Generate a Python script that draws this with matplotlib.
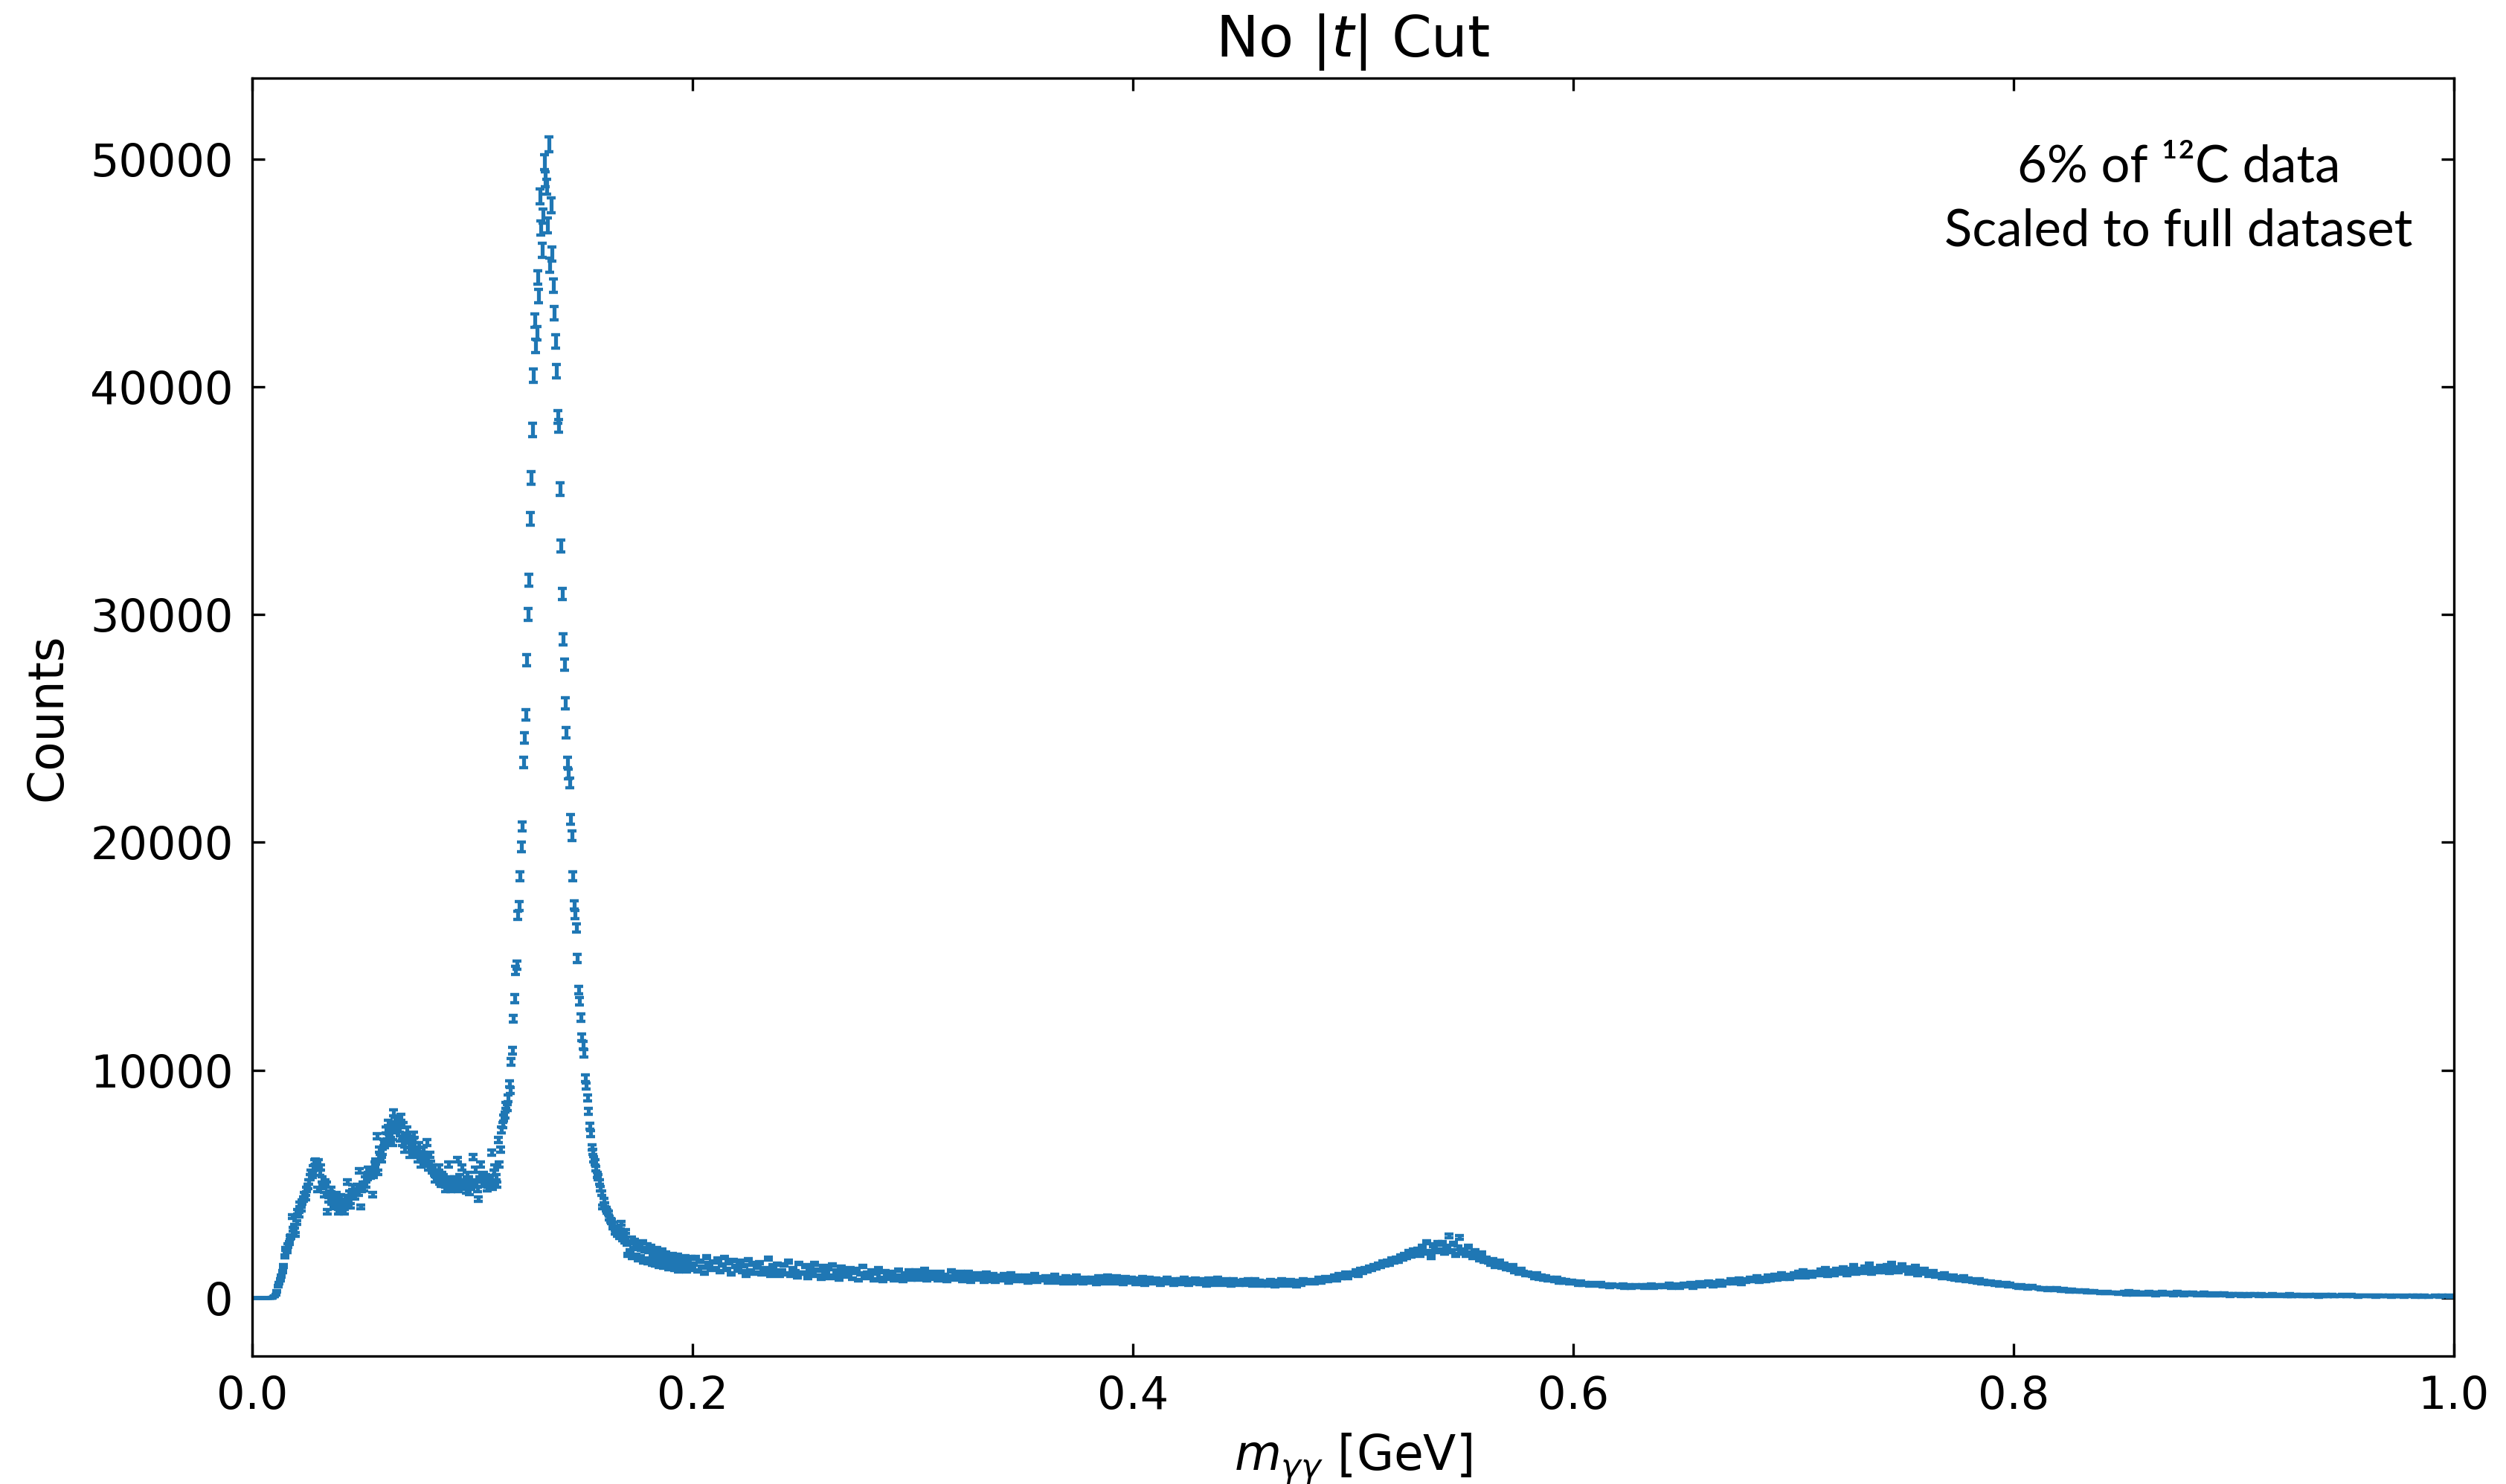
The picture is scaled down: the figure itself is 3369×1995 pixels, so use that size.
import numpy as np
import matplotlib
matplotlib.use("Agg")
import matplotlib.pyplot as plt

# bin widths used for the two parts of the spectrum [GeV]
fine_width = 0.0005
coarse_width = 0.001

# counts, 0.0 - 0.1 GeV, 0.5 MeV bins
counts_low = [
    0, 0, 0, 0, 0, 0, 0, 0, 0, 0,
    0, 0, 0, 0, 0, 0, 0, 0, 20, 60,
    80, 140, 300, 520, 650, 800, 960, 1150, 1400, 1830,
    2150, 2050, 2300, 2420, 2650, 2700, 3570, 3030, 3150, 2800,
    3300, 3780, 3650, 4110, 3900, 4200, 4330, 4550, 4400, 4760,
    4900, 5090, 5300, 5510, 5400, 5700, 5960, 6000, 5850, 4760,
    5960, 5500, 5740, 5200, 4900, 4540, 5100, 4980, 3780, 4300,
    4600, 4760, 4220, 4400, 4100, 4000, 4540, 4300, 3780, 3900,
    4430, 4200, 4050, 3780, 4400, 4150, 5090, 4330, 4600, 4040,
    4500, 4870, 4600, 4430, 4700, 4900, 4600, 5580, 4000, 4760,
    5000, 4800, 5200, 4980, 5300, 5630, 5500, 5350, 5600, 4540,
    5400, 5850, 6000, 7100, 5510, 6500, 6200, 6070, 6400, 6820,
    6700, 7370, 7100, 7690, 7300, 6940, 7500, 6820, 8120, 7800,
    7370, 7600, 7800, 7400, 7000, 7920, 6820, 7590, 6500, 7100,
    7370, 6900, 7000, 6280, 6700, 6600, 7150, 6940, 6500, 6400,
    6070, 6710, 6300, 5850, 6100, 6500, 6000, 6200, 6820, 5900,
    5740, 6280, 5900, 5600, 5740, 5500, 5200, 5400, 5300, 5740,
    5100, 5000, 5400, 5300, 5000, 4760, 5100, 4900, 5850, 5200,
    4760, 4900, 5000, 5200, 4800, 5100, 6070, 4760, 5300, 5000,
    5740, 4870, 5100, 5000, 4700, 5410, 5200, 4650, 4900, 5000,
]

# counts, 0.1 - 0.2 GeV (pi0 peak), 0.5 MeV bins
counts_pi0 = [
    6170, 5100, 5630, 5000, 4760, 4330, 5200, 5850, 5000, 5300,
    5410, 5100, 5300, 4800, 4980, 5200, 5000, 6390, 4870, 5500,
    5740, 5300, 4980, 6940, 5850, 6500, 7370, 7590, 7900, 8020,
    8450, 8350, 8770, 9400, 9100, 10370, 10850, 12260, 13140, 14380,
    14600, 16800, 17200, 18500, 19800, 20700, 23500, 24600, 25600, 28000,
    30000, 31500, 34200, 36000, 38100, 40500, 42900, 41800, 42350, 44800,
    43980, 48350, 46980, 46000, 47500, 49860, 49100, 48780, 47080, 50640,
    45350, 47960, 45840, 44440, 43230, 42000, 40690, 38670, 38280, 35500,
    33000, 30900, 28900, 27800, 26100, 24800, 23500, 23000, 22600, 21000,
    20300, 18500, 17260, 16830, 16240, 14900, 13510, 13020, 12300, 11440,
    11100, 10740, 9650, 9300, 8780, 8180, 7530, 7210, 6620, 6400,
    6100, 5960, 5680, 5400, 5300, 5090, 4800, 4600, 4000, 4270,
    4100, 3900, 3800, 3730, 3500, 3400, 3360, 3100, 3250, 2900,
    3030, 2800, 3100, 2700, 2950, 3290, 2600, 2800, 2500, 2910,
    2400, 1900, 2450, 2050, 2600, 1800, 2300, 2500, 1850, 2200,
    1700, 2400, 1800, 2150, 2450, 1600, 2100, 1700, 2300, 1550,
    2050, 1650, 2250, 1500, 1950, 1800, 1450, 2150, 1650, 1400,
    1900, 1550, 2100, 1350, 1700, 1950, 1450, 1850, 1300, 1750,
    1450, 1900, 1600, 1250, 1800, 1400, 1850, 1200, 1650, 1450,
    1750, 1300, 1550, 1800, 1200, 1650, 1450, 1250, 1750, 1350,
]

# counts, 0.2 - 0.45 GeV, 1 MeV spacing
counts_mid = [
    1480, 1750, 1200, 1620, 1350, 1100, 1800, 1500, 1250, 1580,
    1300, 1700, 1150, 1450, 1780, 1250, 1550, 1050, 1650, 1380,
    1220, 1600, 1150, 1420, 1000, 1680, 1200, 1500, 1080, 1350,
    1550, 1050, 1300, 1180, 1720, 1000, 1400, 1150, 1480, 980,
    1200, 1450, 1050, 1600, 980, 1300, 1150, 920, 1520, 1100,
    1080, 1400, 900, 1250, 1050, 1500, 980, 1220, 850, 1380,
    1050, 1280, 880, 1450, 960, 1200, 820, 1350, 1000, 1150,
    950, 1300, 850, 1120, 1250, 780, 1050, 1380, 900, 1100,
    920, 1180, 800, 1100, 1300, 880, 760, 1150, 980, 850,
    1120, 800, 950, 1220, 850, 740, 1060, 880, 1180, 820,
    950, 1200, 820, 1030, 880, 1240, 790, 1020, 1120, 870,
    960, 800, 1140, 880, 1010, 740, 940, 1180, 820, 1000,
    870, 1120, 760, 980, 820, 1140, 720, 950, 840, 1060,
    820, 1000, 730, 1080, 870, 770, 1040, 710, 960, 850,
    780, 1020, 900, 700, 1070, 840, 760, 980, 800, 900,
    740, 980, 680, 860, 820, 1020, 720, 900, 780, 880,
    920, 680, 840, 760, 1000, 700, 860, 800, 660, 940,
    760, 900, 640, 840, 960, 700, 820, 660, 880, 740,
    690, 880, 800, 620, 940, 720, 780, 660, 960, 700,
    770, 640, 920, 700, 840, 620, 900, 740, 680, 860,
    750, 620, 840, 700, 900, 580, 780, 860, 660, 740,
    840, 680, 600, 800, 720, 880, 640, 780, 580, 820,
    680, 820, 620, 880, 740, 580, 800, 660, 840, 700,
    620, 820, 680, 560, 840, 660, 760, 600, 860, 640,
    700, 580, 800, 640, 540, 820, 660, 740, 580, 720,
]

# counts, 0.45 - 0.65 GeV (eta bump)
counts_eta = [
    760, 600, 820, 680, 560, 790, 650, 740, 540, 720,
    700, 560, 780, 620, 520, 740, 640, 800, 560, 660,
    620, 760, 540, 690, 520, 740, 600, 800, 640, 720,
    680, 780, 640, 730, 860, 700, 790, 900, 740, 880,
    820, 950, 780, 1020, 900, 980, 1100, 880, 1060, 1010,
    1080, 1180, 990, 1240, 1130, 1300, 1190, 1350, 1260, 1420,
    1330, 1480, 1390, 1560, 1450, 1620, 1500, 1700, 1580, 1740,
    1640, 1820, 1720, 1900, 1780, 2020, 1860, 2080, 1950, 2120,
    1880, 2260, 1980, 2450, 2020, 1800, 2320, 2040, 2400, 2100,
    2420, 1980, 2250, 2720, 2050, 2380, 1900, 2200, 2650, 2000,
    2100, 1880, 2250, 1950, 1780, 2050, 1820, 1700, 1950, 1640,
    1720, 1600, 1480, 1660, 1390, 1550, 1620, 1350, 1480, 1300,
    1320, 1250, 1400, 1150, 1200, 1080, 1260, 1130, 1020, 1100,
    1040, 980, 900, 1070, 860, 950, 830, 920, 780, 880,
    820, 760, 870, 700, 800, 680, 780, 720, 650, 740,
    700, 640, 600, 720, 580, 660, 620, 540, 650, 590,
    600, 540, 640, 510, 580, 560, 500, 590, 520, 560,
    540, 500, 580, 470, 530, 560, 450, 520, 560, 490,
    500, 560, 460, 540, 490, 580, 440, 520, 500, 550,
    550, 480, 520, 600, 460, 540, 500, 570, 470, 530,
]

# counts, 0.65 - 0.85 GeV (omega bump)
counts_omega = [
    620, 510, 580, 650, 470, 600, 540, 690, 530, 580,
    580, 700, 640, 520, 670, 610, 750, 560, 690, 640,
    700, 810, 640, 760, 690, 850, 620, 780, 730, 820,
    860, 740, 800, 920, 710, 830, 880, 760, 950, 800,
    880, 1000, 820, 950, 1060, 870, 930, 1010, 840, 980,
    1050, 920, 1130, 980, 1200, 940, 1020, 1110, 960, 1070,
    1140, 1010, 1220, 1060, 1290, 980, 1100, 1180, 1030, 1250,
    1200, 1080, 1310, 1140, 1030, 1260, 1170, 1400, 1090, 1230,
    1260, 1130, 1350, 1190, 1480, 1080, 1240, 1300, 1150, 1380,
    1290, 1170, 1400, 1110, 1520, 1230, 1320, 1160, 1260, 1430,
    1210, 1320, 1080, 1250, 1150, 1380, 1040, 1190, 1100, 1260,
    1120, 990, 1080, 1170, 950, 1040, 1000, 890, 1060, 960,
    930, 850, 980, 820, 900, 790, 870, 940, 760, 840,
    800, 720, 770, 690, 820, 660, 740, 700, 630, 720,
    650, 600, 690, 560, 620, 580, 640, 530, 600, 560,
    540, 500, 470, 560, 450, 520, 430, 490, 510, 440,
    450, 410, 380, 440, 400, 360, 430, 390, 350, 410,
    370, 330, 390, 310, 350, 300, 360, 320, 280, 340,
    300, 270, 320, 250, 290, 260, 310, 240, 270, 230,
    250, 220, 260, 200, 240, 210, 230, 190, 220, 200,
]

# counts, 0.85 - 1.0 GeV
counts_tail = [
    260, 160, 290, 200, 150, 270, 190, 240, 130, 250,
    210, 270, 150, 230, 120, 250, 170, 280, 140, 210,
    170, 240, 120, 220, 260, 140, 200, 110, 240, 160,
    140, 230, 160, 100, 220, 130, 240, 120, 200, 110,
    180, 120, 210, 100, 170, 200, 110, 190, 90, 170,
    160, 100, 190, 90, 170, 130, 80, 160, 110, 180,
    150, 80, 170, 110, 70, 150, 100, 170, 80, 130,
    110, 150, 70, 140, 90, 160, 60, 120, 140, 80,
    140, 80, 120, 60, 150, 100, 80, 130, 50, 110,
    90, 130, 60, 110, 140, 60, 100, 120, 70, 130,
    120, 60, 100, 130, 70, 100, 50, 120, 80, 100,
    80, 120, 60, 100, 50, 110, 80, 120, 60, 90,
    110, 50, 90, 70, 120, 60, 90, 50, 110, 70,
    70, 100, 50, 110, 70, 40, 100, 70, 50, 90,
    60, 100, 70, 40, 100, 60, 80, 110, 50, 70,
]

segments = [
    (0.0, fine_width, counts_low),
    (0.1, fine_width, counts_pi0),
    (0.2, coarse_width, counts_mid),
    (0.45, coarse_width, counts_eta),
    (0.65, coarse_width, counts_omega),
    (0.85, coarse_width, counts_tail),
]

# statistical error scale on the drawn bars
err_scale = 1.45


def collect(segs):
    """ Spoji segmenty do jednoho pole stredu binu a poctu """
    xs, ys = [], []
    for start, width, vals in segs:
        centers = start + width * (np.arange(len(vals)) + 0.5)
        xs.append(centers)
        ys.append(np.asarray(vals, dtype=float))
    return np.concatenate(xs), np.concatenate(ys)


def plot_spectrum(fig_location: str = None):
    x, y = collect(segments)
    yerr = err_scale * np.sqrt(y)

    fig = plt.figure(figsize=(3369 / 300, 1995 / 300), dpi=300)
    ax = fig.add_axes([0.1006, 0.0862, 0.8786, 0.8612])

    ax.errorbar(x, y, yerr=yerr, fmt="none", ecolor="#1f77b4",
                elinewidth=1.25, capsize=1.35, capthick=1.05)

    ax.set_xlim(0.0, 1.0)
    ax.set_ylim(-2550, 53550)
    ax.set_xticks([0.0, 0.2, 0.4, 0.6, 0.8, 1.0])
    ax.set_yticks([0, 10000, 20000, 30000, 40000, 50000])
    ax.tick_params(direction="in", top=True, right=True, length=4,
                   width=0.8, labelsize=14.5, pad=6)

    ax.set_title(r"No $|t|$ Cut", fontsize=18.5, pad=7)
    ax.set_xlabel(r"$m_{\gamma\gamma}$ [GeV]", fontsize=15.5, labelpad=4)
    ax.set_ylabel("Counts", fontsize=15.5, labelpad=6)

    ax.text(0.875, 0.905, "6% of \u00b9\u00b2C data\nScaled to full dataset",
            transform=ax.transAxes, ha="center", va="center",
            multialignment="center", fontsize=16.5,
            family=["Lato", "DejaVu Sans"], linespacing=1.45)

    if fig_location:
        fig.savefig(fig_location, dpi=300)


if __name__ == "__main__":
    plot_spectrum("out.png")
